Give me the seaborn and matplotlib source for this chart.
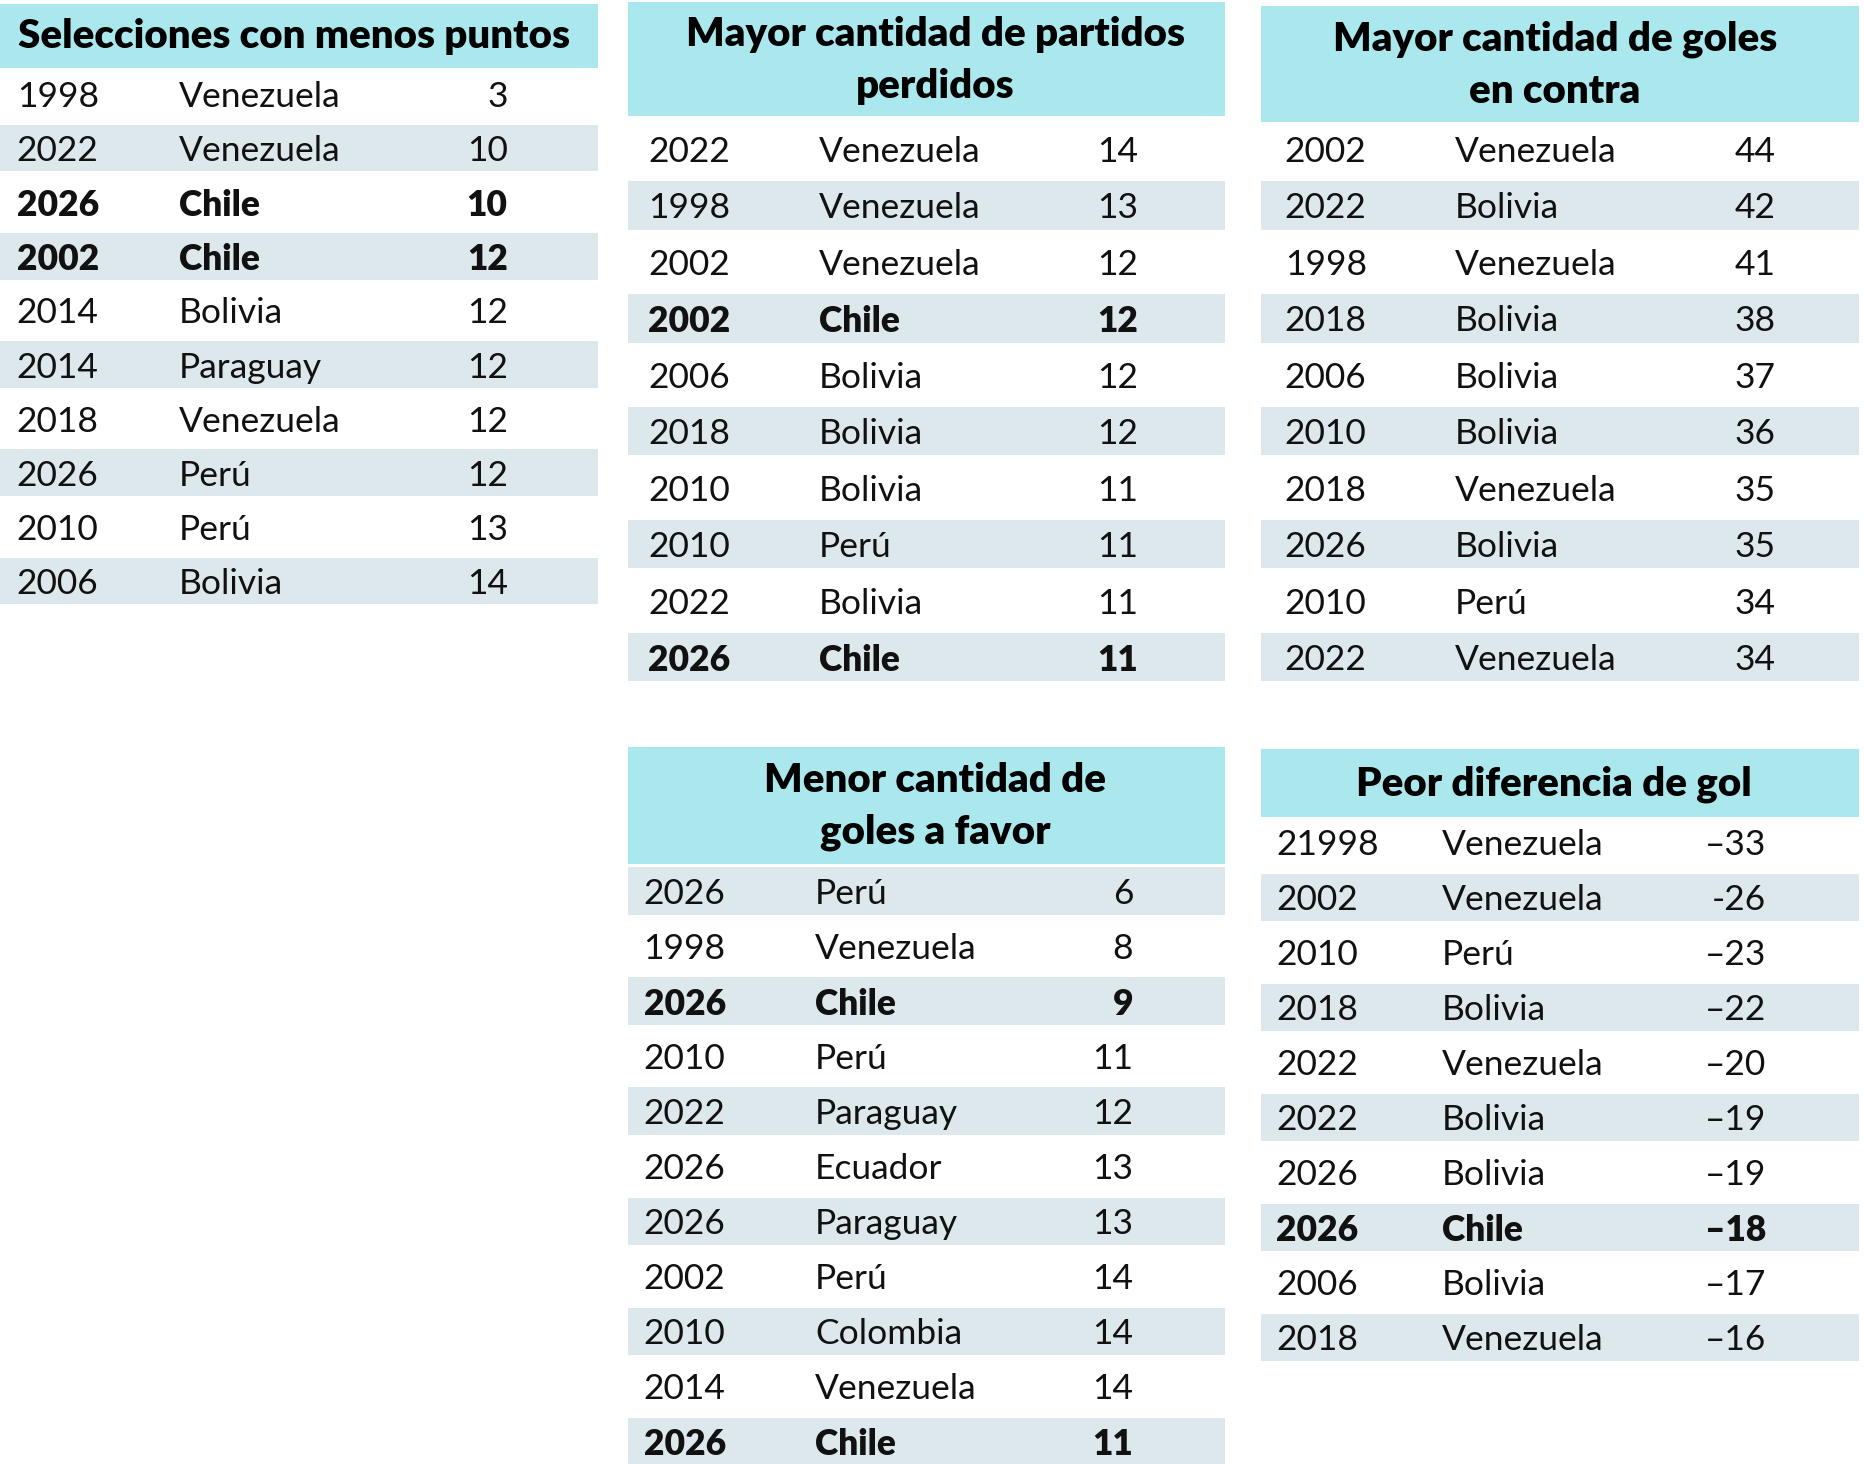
import matplotlib
matplotlib.use("Agg")
import matplotlib.pyplot as plt
import seaborn as sns

sns.set_theme(style="white")
plt.rcParams['font.family'] = ['Lato', 'DejaVu Sans']

# --- data -------------------------------------------------------------
pts_title = "Selecciones con menos puntos"
pts_years = ["1998", "2022", "2026", "2002", "2014", "2014", "2018", "2026", "2010", "2006"]
pts_teams = ["Venezuela", "Venezuela", "Chile", "Chile", "Bolivia", "Paraguay",
             "Venezuela", "Perú", "Perú", "Bolivia"]
pts_vals = [3, 10, 10, 12, 12, 12, 12, 12, 13, 14]

lost_title = "Mayor cantidad de partidos\nperdidos"
lost_years = ["2022", "1998", "2002", "2002", "2006", "2018", "2010", "2010", "2022", "2026"]
lost_teams = ["Venezuela", "Venezuela", "Venezuela", "Chile", "Bolivia", "Bolivia",
              "Bolivia", "Perú", "Bolivia", "Chile"]
lost_vals = [14, 13, 12, 12, 12, 12, 11, 11, 11, 11]

ga_title = "Mayor cantidad de goles\nen contra"
ga_years = ["2002", "2022", "1998", "2018", "2006", "2010", "2018", "2026", "2010", "2022"]
ga_teams = ["Venezuela", "Bolivia", "Venezuela", "Bolivia", "Bolivia", "Bolivia",
            "Venezuela", "Bolivia", "Perú", "Venezuela"]
ga_vals = [44, 42, 41, 38, 37, 36, 35, 35, 34, 34]

gf_title = "Menor cantidad de\ngoles a favor"
gf_years = ["2026", "1998", "2026", "2010", "2022", "2026", "2026", "2002", "2010", "2014", "2026"]
gf_teams = ["Perú", "Venezuela", "Chile", "Perú", "Paraguay", "Ecuador", "Paraguay",
            "Perú", "Colombia", "Venezuela", "Chile"]
gf_vals = [6, 8, 9, 11, 12, 13, 13, 14, 14, 14, 11]

gd_title = "Peor diferencia de gol"
gd_years = ["21998", "2002", "2010", "2018", "2022", "2022", "2026", "2026", "2006", "2018"]
gd_teams = ["Venezuela", "Venezuela", "Perú", "Bolivia", "Venezuela", "Bolivia",
            "Bolivia", "Chile", "Bolivia", "Venezuela"]
gd_vals = ["–33", "-26", "–23", "–22", "–20", "–19", "–19", "–18", "–17", "–16"]

highlight = "Chile"

# --- style --------------------------------------------------------------
HEAD = "#aae8ee"
BAND = "#dce8ec"
W, H = 1565, 1229   # layout grid used for placing the blocks
ROW_FS = 25.5
HEAD_FS = 29


def draw_table(ax, title, years, teams, vals, box, head, first, pitch,
               cols, title_x, shade_even=False):
    x0, x1 = box
    # header block
    ax.barh(y=(head[0] + head[1]) / 2, width=x1 - x0, left=x0,
            height=head[1] - head[0], color=HEAD, linewidth=0)
    ax.text(title_x, (head[0] + head[1]) / 2 + 1, title, ha='center',
            va='center', fontsize=HEAD_FS, fontweight='heavy', color='black',
            linespacing=1.5)

    for i, (yr, tm, v) in enumerate(zip(years, teams, vals)):
        y = first + pitch * i
        shaded = (i % 2 == 0) if shade_even else (i % 2 == 1)
        if shaded:
            ax.barh(y=y, width=x1 - x0, left=x0, height=pitch * 0.86,
                    color=BAND, linewidth=0)
        wt = 'heavy' if tm == highlight else 'normal'
        ax.text(cols[0], y, yr, ha='left', va='center_baseline',
                fontsize=ROW_FS, fontweight=wt, color='#111111')
        ax.text(cols[1], y, tm, ha='left', va='center_baseline',
                fontsize=ROW_FS, fontweight=wt, color='#111111')
        ax.text(cols[2], y, str(v), ha='right', va='center_baseline',
                fontsize=ROW_FS, fontweight=wt, color='#111111')


fig = plt.figure(figsize=(18.65, 14.64), dpi=100)
ax = fig.add_axes([0, 0, 1, 1])
ax.set_xlim(0, W)
ax.set_ylim(H, 0)
ax.axis('off')

draw_table(ax, pts_title, pts_years, pts_teams, pts_vals,
           box=(0, 502), head=(3, 57), first=79, pitch=45.4,
           cols=(14, 150, 426), title_x=247)
draw_table(ax, lost_title, lost_years, lost_teams, lost_vals,
           box=(527, 1028), head=(2, 97), first=125, pitch=47.4,
           cols=(544, 687, 955), title_x=785)
draw_table(ax, ga_title, ga_years, ga_teams, ga_vals,
           box=(1058, 1560), head=(5, 102), first=125, pitch=47.4,
           cols=(1078, 1221, 1490), title_x=1305)
draw_table(ax, gf_title, gf_years, gf_teams, gf_vals,
           box=(527, 1028), head=(627, 725), first=748, pitch=46.2,
           cols=(540, 684, 951), title_x=785, shade_even=True)
draw_table(ax, gd_title, gd_years, gd_teams, gd_vals,
           box=(1058, 1560), head=(629, 686), first=707, pitch=46.2,
           cols=(1071, 1210, 1482), title_x=1304)

fig.savefig("out.png", dpi=100, facecolor='white')
